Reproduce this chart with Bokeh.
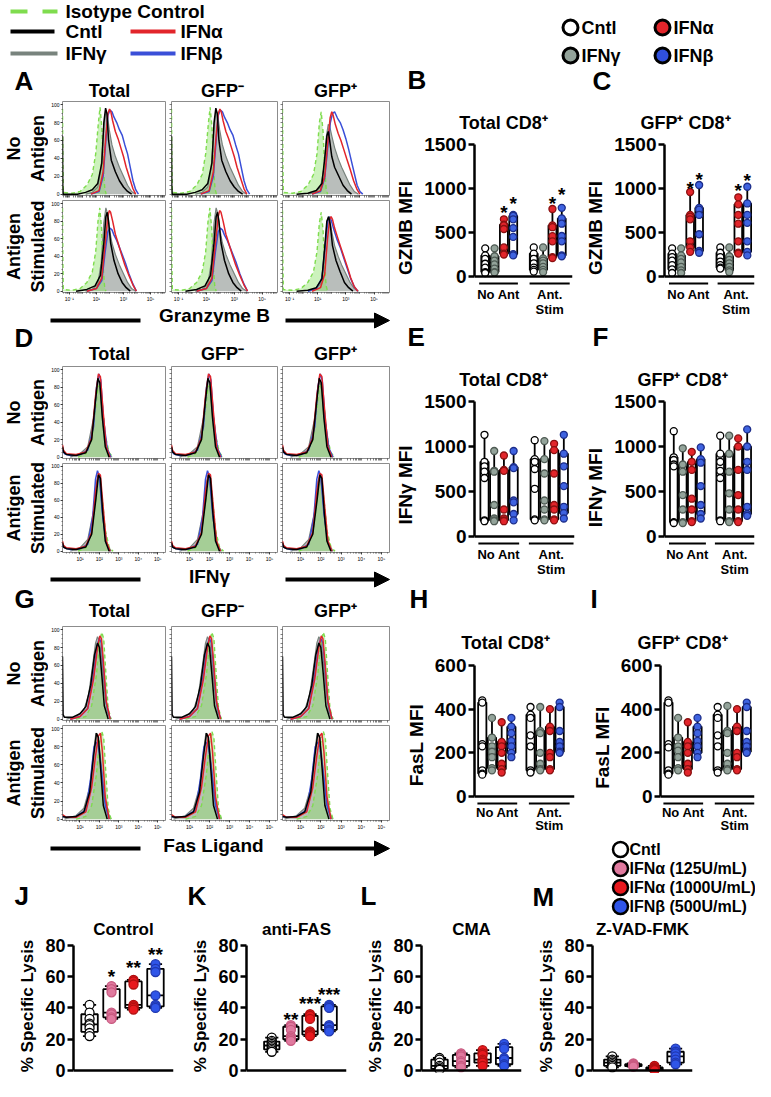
import numpy as np
from bokeh.plotting import figure
from bokeh.layouts import row, column
from bokeh.models import Range1d, FixedTicker, Span, Arrow, NormalHead, LinearAxis
from bokeh.embed import file_html
from bokeh.resources import INLINE
from bokeh.core.properties import value

FONT = "Liberation Sans"

# ---------------- colours ----------------
C_ISO, C_ISO_FILL = "#7fdc4e", "#8fe36a"
C_IFNG, C_IFNG_FILL = "#78837d", "#8a938e"
C_IFNA, C_IFNB, C_PINK = "#e2252b", "#3a4fd8", "#e07a9f"
DOT_GRAY = "#93a39a"

# ---------------- histogram data (x = log10 intensity, y = % of max) ----------------
GZMB_NOAG_TOTAL = {
    "iso": ([-1.5, -1.47, -1.44, -0.8, -0.2, 0.3, 0.7, 0.95, 1.15, 1.27, 1.4, 1.52, 1.62, 1.72],
            [95, 30, 2, 1, 3, 10, 22, 45, 80, 97, 75, 30, 6, 0]),
    "ifng": ([0.2, 0.7, 1.1, 1.35, 1.55, 1.7, 1.8, 1.95, 2.15, 2.4, 2.7, 3.0, 3.3, 3.6, 3.9],
             [0, 2, 8, 30, 75, 93, 90, 72, 55, 42, 30, 20, 10, 3, 0]),
    "cntl": ([-1.5, -1.48, -1.45, -0.4, 0.2, 0.7, 1.1, 1.4, 1.55, 1.68, 1.78, 1.9, 2.1, 2.4, 2.7, 3.0, 3.3, 3.6],
             [65, 8, 0, 0, 2, 5, 12, 35, 80, 96, 90, 60, 38, 25, 15, 8, 3, 0]),
    "ifna": ([0.6, 1.2, 1.5, 1.7, 1.85, 1.97, 2.07, 2.2, 2.4, 2.6, 2.8, 3.0, 3.2, 3.45, 3.7, 3.9],
             [0, 4, 25, 65, 90, 95, 92, 82, 70, 62, 52, 42, 30, 18, 6, 0]),
    "ifnb": ([0.6, 1.2, 1.5, 1.7, 1.85, 2.0, 2.15, 2.3, 2.5, 2.7, 2.9, 3.1, 3.3, 3.5, 3.7, 3.9, 4.1],
             [0, 3, 20, 60, 88, 94, 92, 86, 80, 72, 66, 55, 45, 30, 15, 5, 0]),
}
GZMB_STIM_TOTAL = {
    "iso": ([-1.5, -1.47, -1.44, -0.8, -0.2, 0.3, 0.7, 0.95, 1.12, 1.25, 1.38, 1.5, 1.6, 1.7],
            [95, 30, 2, 1, 3, 10, 22, 45, 80, 95, 72, 28, 6, 0]),
    "ifng": ([0.2, 0.7, 1.1, 1.35, 1.55, 1.7, 1.8, 1.95, 2.15, 2.4, 2.7, 3.0, 3.3, 3.6, 3.9],
             [0, 2, 8, 32, 78, 95, 90, 72, 55, 42, 30, 20, 10, 3, 0]),
    "cntl": ([-0.5, 0.3, 0.9, 1.3, 1.55, 1.7, 1.8, 1.9, 2.05, 2.3, 2.6, 2.9, 3.2, 3.5],
             [0, 2, 6, 18, 55, 85, 90, 80, 55, 35, 20, 10, 4, 0]),
    "ifna": ([0.3, 1.0, 1.4, 1.65, 1.85, 1.95, 2.05, 2.2, 2.4, 2.6, 2.85, 3.1, 3.4, 3.7, 3.95],
             [0, 3, 15, 55, 85, 92, 90, 80, 65, 55, 42, 30, 18, 7, 0]),
    "ifnb": ([0.3, 1.0, 1.4, 1.65, 1.85, 2.0, 2.15, 2.3, 2.5, 2.7, 2.9, 3.15, 3.4, 3.7, 3.95],
             [0, 3, 12, 45, 68, 72, 70, 64, 58, 50, 42, 32, 20, 8, 0]),
}
GZMB_NOAG_GFPP = {
    "iso": ([-1.5, -1.47, -1.44, -0.8, -0.2, 0.3, 0.7, 0.95, 1.12, 1.25, 1.38, 1.5, 1.6, 1.7],
            [95, 30, 2, 1, 3, 10, 22, 45, 80, 92, 70, 28, 6, 0]),
    "ifng": ([0.3, 0.8, 1.2, 1.45, 1.62, 1.75, 1.85, 2.0, 2.2, 2.45, 2.7, 3.0, 3.3, 3.6, 3.9],
             [0, 2, 8, 30, 65, 78, 76, 65, 52, 40, 30, 20, 10, 3, 0]),
    "cntl": ([-0.5, 0.3, 0.9, 1.3, 1.5, 1.65, 1.75, 1.85, 2.0, 2.2, 2.5, 2.8, 3.1, 3.4],
             [0, 1, 4, 12, 40, 65, 70, 60, 42, 30, 20, 10, 4, 0]),
    "ifna": ([0.6, 1.2, 1.5, 1.7, 1.88, 2.0, 2.1, 2.25, 2.45, 2.65, 2.85, 3.05, 3.3, 3.55, 3.8, 4.0],
             [0, 4, 20, 55, 85, 92, 88, 78, 68, 60, 50, 40, 28, 15, 5, 0]),
    "ifnb": ([0.6, 1.2, 1.5, 1.7, 1.9, 2.05, 2.2, 2.4, 2.6, 2.8, 3.0, 3.2, 3.5, 3.8, 4.0, 4.2],
             [0, 3, 18, 50, 80, 90, 92, 85, 80, 72, 62, 50, 30, 10, 3, 0]),
}
GZMB_STIM_GFPP = {
    "iso": ([-1.5, -1.47, -1.44, -0.8, -0.2, 0.3, 0.7, 0.95, 1.12, 1.25, 1.38, 1.5, 1.6, 1.7],
            [92, 30, 2, 1, 3, 10, 22, 45, 78, 90, 70, 28, 6, 0]),
    "ifng": ([0.3, 0.8, 1.2, 1.45, 1.62, 1.75, 1.85, 2.0, 2.2, 2.45, 2.7, 3.0, 3.3, 3.6, 3.9],
             [0, 2, 8, 32, 72, 85, 82, 68, 52, 40, 30, 20, 10, 3, 0]),
    "cntl": ([-0.5, 0.3, 0.9, 1.3, 1.5, 1.65, 1.78, 1.9, 2.05, 2.3, 2.6, 2.9, 3.2, 3.5],
             [0, 1, 4, 14, 50, 80, 85, 75, 52, 35, 22, 10, 4, 0]),
    "ifna": ([0.6, 1.2, 1.5, 1.7, 1.85, 1.95, 2.05, 2.2, 2.4, 2.6, 2.85, 3.1, 3.35, 3.6, 3.85],
             [0, 4, 20, 60, 82, 85, 82, 72, 62, 52, 40, 28, 15, 5, 0]),
    "ifnb": ([0.3, 0.9, 1.3, 1.55, 1.72, 1.85, 1.98, 2.15, 2.35, 2.6, 2.85, 3.1, 3.35, 3.6, 3.85],
             [0, 3, 15, 55, 80, 85, 80, 70, 60, 50, 38, 26, 14, 5, 0]),
}
IFNG_NOAG = {
    "iso": ([0.9, 1.3, 1.6, 1.8, 1.92, 2.02, 2.15, 2.3, 2.5, 2.7],
            [0, 4, 20, 55, 80, 82, 60, 25, 5, 0]),
    "ifng": ([0.5, 1.0, 1.4, 1.7, 1.85, 1.95, 2.05, 2.2, 2.4, 2.6],
             [0, 4, 12, 45, 80, 88, 75, 35, 8, 0]),
    "cntl": ([0.1, 0.15, 0.3, 0.8, 1.3, 1.6, 1.8, 1.92, 2.02, 2.15, 2.3, 2.5],
             [12, 6, 3, 2, 5, 20, 65, 90, 85, 45, 12, 0]),
    "ifna": ([0.1, 0.15, 0.3, 0.8, 1.3, 1.6, 1.8, 1.95, 2.05, 2.2, 2.35, 2.55],
             [14, 8, 4, 3, 6, 22, 70, 95, 92, 50, 12, 0]),
    "ifnb": ([0.1, 0.2, 0.5, 1.0, 1.4, 1.7, 1.85, 1.97, 2.07, 2.2, 2.4, 2.6],
             [8, 4, 2, 3, 8, 35, 80, 95, 88, 45, 10, 0]),
}
IFNG_STIM = {
    "iso": ([0.9, 1.3, 1.6, 1.8, 1.92, 2.02, 2.15, 2.3, 2.5, 2.7],
            [0, 4, 22, 58, 85, 86, 62, 25, 5, 0]),
    "ifng": ([0.5, 1.0, 1.4, 1.7, 1.85, 1.95, 2.05, 2.2, 2.4, 2.6],
             [0, 4, 14, 48, 82, 90, 75, 35, 8, 0]),
    "cntl": ([0.1, 0.15, 0.3, 0.8, 1.3, 1.6, 1.82, 1.95, 2.05, 2.17, 2.3, 2.5],
             [10, 5, 3, 2, 5, 20, 62, 90, 86, 45, 12, 0]),
    "ifna": ([0.1, 0.15, 0.3, 0.8, 1.3, 1.6, 1.8, 1.95, 2.05, 2.2, 2.35, 2.55],
             [12, 7, 4, 3, 6, 22, 70, 92, 90, 50, 12, 0]),
    "ifnb": ([0.1, 0.2, 0.5, 1.0, 1.4, 1.65, 1.8, 1.9, 2.0, 2.15, 2.35, 2.55],
             [8, 4, 2, 3, 8, 40, 85, 95, 88, 45, 10, 0]),
}
FASL_NOAG = {
    "iso": ([0.8, 1.3, 1.6, 1.85, 2.0, 2.12, 2.22, 2.32, 2.45, 2.6],
            [0, 3, 15, 50, 85, 97, 90, 55, 12, 0]),
    "ifng": ([0.3, 0.8, 1.2, 1.45, 1.65, 1.8, 1.9, 2.0, 2.1, 2.25, 2.4, 2.6],
             [0, 3, 10, 28, 60, 85, 92, 88, 70, 35, 8, 0]),
    "cntl": ([0.1, 0.13, 0.2, 0.6, 1.0, 1.3, 1.55, 1.75, 1.9, 2.0, 2.12, 2.25, 2.45],
             [70, 5, 2, 2, 6, 14, 38, 72, 85, 80, 50, 15, 0]),
    "ifna": ([0.5, 1.0, 1.4, 1.7, 1.9, 2.02, 2.1, 2.2, 2.35, 2.55],
             [0, 3, 12, 45, 80, 93, 90, 65, 20, 0]),
    "ifnb": ([0.5, 1.0, 1.4, 1.7, 1.88, 2.0, 2.1, 2.2, 2.35, 2.55],
             [0, 3, 12, 50, 82, 90, 85, 60, 18, 0]),
}
FASL_STIM = {
    "iso": ([0.8, 1.3, 1.6, 1.85, 2.0, 2.12, 2.22, 2.32, 2.45, 2.6],
            [0, 3, 15, 50, 85, 97, 90, 55, 12, 0]),
    "ifng": ([0.2, 0.8, 1.2, 1.5, 1.7, 1.82, 1.92, 2.05, 2.2, 2.4, 2.6],
             [0, 4, 12, 35, 75, 95, 92, 70, 35, 8, 0]),
    "cntl": ([0.1, 0.3, 0.8, 1.2, 1.5, 1.7, 1.85, 1.95, 2.05, 2.2, 2.4],
             [3, 2, 3, 8, 30, 70, 95, 90, 60, 15, 0]),
    "ifna": ([0.1, 0.3, 0.8, 1.3, 1.6, 1.8, 1.95, 2.05, 2.15, 2.3, 2.5],
             [5, 2, 2, 8, 35, 70, 92, 95, 75, 25, 0]),
    "ifnb": ([0.1, 0.3, 0.8, 1.3, 1.55, 1.72, 1.85, 1.95, 2.1, 2.3, 2.5],
             [3, 2, 3, 10, 45, 80, 85, 80, 55, 15, 0]),
}

GZMB_RANGE = (-1.5, 6.1)
GZMB_TICKS = [-1, 1, 3, 5]
GZMB_TICK_LABELS = ["10⁻¹", "10¹", "10³", "10⁵"]
LOG_RANGE = (0.1, 5.4)
LOG_TICKS = [1, 2, 3, 4, 5]
LOG_TICK_LABELS = ["10¹", "10²", "10³", "10⁴", "10⁵"]
PCT_TICKS = [0, 20, 40, 60, 80, 100]

# ---------------- MFI box-plot data: [group][treatment] ; treatments Cntl, IFNγ, IFNα, IFNβ ----------------
GZMB_TOTAL = [
    [[320, 240, 200, 145, 100, 50, 40], [320, 230, 180, 137, 90, 50, 45],
     [650, 590, 580, 540, 330, 260, 250], [700, 690, 650, 550, 450, 255, 240]],
    [[330, 260, 200, 150, 100, 75, 56], [330, 205, 180, 150, 110, 75, 50],
     [767, 580, 560, 458, 400, 220, 210], [780, 660, 600, 460, 400, 240, 230]],
]
GZMB_GFPP = [
    [[320, 260, 220, 180, 130, 80, 40], [320, 240, 200, 160, 110, 70, 40],
     [960, 700, 680, 650, 400, 330, 280], [1040, 780, 760, 700, 480, 290, 270]],
    [[330, 270, 220, 170, 130, 100, 90], [330, 230, 190, 150, 110, 70, 50],
     [900, 820, 700, 600, 400, 270, 260], [1020, 830, 700, 610, 400, 280, 240]],
]
IFNG_TOTAL = [
    [[1130, 830, 780, 720, 650, 180, 170], [950, 730, 720, 350, 200, 180, 170],
     [900, 740, 730, 300, 200, 180, 170], [950, 770, 760, 400, 380, 250, 180]],
    [[1070, 860, 830, 750, 530, 190, 180], [1060, 860, 700, 400, 300, 190, 180],
     [1030, 960, 700, 350, 300, 190, 180], [1130, 920, 780, 560, 330, 260, 200]],
]
IFNG_GFPP = [
    [[1170, 880, 850, 800, 780, 160, 150], [980, 800, 720, 460, 300, 160, 150],
     [940, 830, 740, 420, 300, 170, 160], [990, 860, 820, 560, 350, 250, 200]],
    [[1120, 920, 830, 730, 650, 180, 170], [1120, 920, 720, 480, 300, 170, 160],
     [1090, 1000, 740, 460, 300, 170, 160], [1190, 1000, 830, 740, 330, 250, 230]],
]
FASL_TOTAL = [
    [[440, 430, 240, 230, 120, 105, 100], [360, 270, 230, 205, 180, 130, 120],
     [340, 250, 230, 200, 150, 125, 110], [360, 320, 290, 255, 230, 200, 180]],
    [[410, 375, 360, 280, 230, 120, 110], [410, 300, 290, 200, 150, 125, 120],
     [400, 320, 300, 200, 180, 125, 120], [430, 410, 300, 250, 230, 205, 200]],
]
FASL_GFPP = [
    [[440, 430, 240, 225, 120, 105, 100], [360, 270, 230, 210, 180, 130, 120],
     [340, 250, 230, 200, 150, 125, 110], [360, 320, 290, 255, 230, 200, 180]],
    [[410, 375, 360, 280, 230, 120, 110], [415, 300, 290, 200, 150, 125, 120],
     [400, 320, 300, 200, 180, 125, 120], [430, 410, 300, 250, 230, 205, 200]],
]
GROUP_LABELS = ["No Ant", "Ant.", "Stim"]

# ---------------- % specific lysis: treatments Cntl, IFNα125, IFNα1000, IFNβ500 ----------------
LYSIS_CONTROL = [[42, 37, 33, 30, 29, 27, 24, 22], [54, 52, 50, 37, 36, 34, 33],
                 [58, 57, 55, 42, 41, 40, 39], [68, 65, 63, 48, 42, 41, 40]]
LYSIS_ANTIFAS = [[21, 19, 18, 17, 16, 15, 14, 13, 12], [29, 28, 26, 22, 21, 20, 19],
                 [36, 35, 33, 25, 24, 23, 22], [42, 41, 40, 29, 28, 26, 25]]
LYSIS_CMA = [[8, 7, 5, 3, 2, 1, 0.5], [11, 10, 9, 6, 5, 3, 2],
             [13, 11, 10, 7, 6, 5, 3], [17, 15, 14, 8, 7, 4, 3]]
LYSIS_ZVAD = [[9, 7, 6, 5, 4, 3, 2], [4.5, 4, 3.8, 3.5, 3, 2.8, 2.5],
              [3, 2, 1.5, 1, 0.5, 0.3, 0.2], [14, 12, 11, 9, 7, 5, 4]]
STARS_CONTROL = [(0, 1, 64, "*"), (0, 2, 70, "**"), (0, 3, 78, "**")]
STARS_ANTIFAS = [(0, 1, 36.6, "**"), (0, 2, 47, "***"), (0, 3, 52.7, "***")]
STARS_GZMB_TOTAL = [(0, 2, 794, "*"), (0, 3, 897, "*"), (1, 2, 897, "*"), (1, 3, 1004, "*")]
STARS_GZMB_GFPP = [(0, 2, 1063, "*"), (0, 3, 1175, "*"), (1, 2, 1045, "*"), (1, 3, 1157, "*")]

MFI_STYLES = [("white", "black"), (DOT_GRAY, "#4e5a53"), (C_IFNA, "#8a1010"), ("#3f63e0", "#1c2d8a")]
LYSIS_STYLES = [("white", "black"), (C_PINK, "#c85a80"), ("#e8191e", "#b01010"), ("#2f55e8", "#2038b0")]


# ---------------- helpers ----------------
def canvas(x0, y0, w, h):
    # page-pixel canvas; y is stored negated so that the range is not inverted
    p = figure(width=w, height=h, x_range=Range1d(x0, x0 + w), y_range=Range1d(-(y0 + h), -y0),
               x_axis_type=None, y_axis_type=None, output_backend="svg",
               toolbar_location=None, tools="", min_border=0)
    p.outline_line_color = None
    return p


def T(p, x, y, s, size=19, align="left", style="bold", baseline="middle", color="black"):
    p.text(x=[x], y=[-y], text=[s], text_font=value(FONT), text_font_style=style,
           text_font_size=f"{size}px", text_align=align, text_baseline=baseline, text_color=color)


def L(p, xs, ys, color="black", width=4, dash="solid"):
    p.line(xs, [-v for v in ys], line_color=color, line_width=width, line_dash=dash)


def DOT(p, x, y, fill, lw=3, size=15):
    p.scatter(x=[x], y=[-y], size=size, fill_color=fill, line_color="black", line_width=lw)


def log_minors(lo, hi):
    out = []
    for n in range(-3, 7):
        for k in range(1, 10):
            v = n + np.log10(k)
            if lo <= v <= hi:
                out.append(float(v))
    return out


def hist_axis(ax, majors, minors, labels, show):
    ax.axis_line_color = None
    ax.major_tick_in = 0
    ax.minor_tick_in = 0
    ax.major_tick_line_width = 0.7
    ax.minor_tick_line_width = 0.5
    if show:
        ax.ticker = FixedTicker(ticks=majors, minor_ticks=minors)
        if labels is not None:
            ax.major_label_overrides = {m: l for m, l in zip(majors, labels)}
        ax.major_tick_out = 2
        ax.minor_tick_out = 1
        ax.major_label_standoff = 1
        ax.major_label_text_font = FONT
        ax.major_label_text_font_size = "5px"
        ax.major_label_text_color = "black"
    else:
        # tick marks only, drawn as minor ticks so that no label is emitted
        ax.ticker = FixedTicker(ticks=[], minor_ticks=sorted(set(list(majors) + list(minors))))
        ax.major_tick_out = 0
        ax.minor_tick_out = 2
        ax.major_label_standoff = 0


def hist(curves, xr, majors, labels, w, bl, br, h, bb, show_x, show_y):
    p = figure(width=w, height=h, x_range=Range1d(*xr), y_range=Range1d(-1.5, 103.5),
               output_backend="svg", toolbar_location=None, tools="",
               min_border_left=bl, min_border_right=br, min_border_top=0, min_border_bottom=bb)
    p.grid.visible = False
    p.outline_line_color = "#8c8c8c"
    p.outline_line_width = 1
    hist_axis(p.xaxis[0], majors, log_minors(*xr), labels, show_x)
    hist_axis(p.yaxis[0], PCT_TICKS, list(range(0, 101, 5)), None, show_y)
    ix, iy = curves["iso"]
    gx, gy = curves["ifng"]
    p.varea(x=gx, y1=0, y2=gy, fill_color=C_IFNG_FILL, fill_alpha=0.6)
    p.varea(x=ix, y1=0, y2=iy, fill_color=C_ISO_FILL, fill_alpha=0.45)
    p.line(gx, gy, line_color=C_IFNG, line_width=1.2)
    p.line(ix, iy, line_color=C_ISO, line_width=1.4, line_dash="4 3")
    for key, col in (("ifnb", C_IFNB), ("ifna", C_IFNA), ("cntl", "black")):
        cx, cy = curves[key]
        p.line(cx, cy, line_color=col, line_width=1.5)
    return p


def label_axis(ax, text):
    ax.ticker = FixedTicker(ticks=[])
    ax.axis_line_color = None
    ax.major_tick_out = 0
    ax.major_tick_in = 0
    ax.minor_tick_out = 0
    ax.minor_tick_in = 0
    ax.major_label_standoff = 0
    ax.axis_label = text
    ax.axis_label_text_font = FONT
    ax.axis_label_text_font_style = "bold"
    ax.axis_label_text_font_size = "18px"
    ax.axis_label_text_color = "black"
    ax.axis_label_standoff = 1


def row_label(h, bb, outer, inner):
    # two rotated row titles drawn as axis labels of an otherwise empty panel
    p = figure(width=48, height=h, x_range=Range1d(0, 1), y_range=Range1d(0, 1), x_axis_type=None,
               output_backend="svg", toolbar_location=None, tools="",
               min_border_left=44, min_border_right=0, min_border_top=0, min_border_bottom=bb)
    p.grid.visible = False
    p.outline_line_color = None
    label_axis(p.yaxis[0], inner)
    out_ax = LinearAxis()
    label_axis(out_ax, outer)
    p.add_layout(out_ax, "left")
    return p


def hist_row(h, bb, lines, sets, xr, majors, labels, show_x):
    figs = [row_label(h, bb, lines[0], lines[1])]
    dims = [(118, 12, 1), (112, 5, 1), (114, 4, 3)]
    for k, (w, bl, br) in enumerate(dims):
        figs.append(hist(sets[k], xr, majors, labels, w, bl, br, h, bb, show_x, k == 0))
    return row(*figs)


def stats(v):
    v = np.asarray(v, float)
    q1, med, q3 = np.percentile(v, [25, 50, 75], method="weibull")
    return v.min(), q1, med, q3, v.max()


def style_yaxis(ax, ticks, tick_size, lab_size, label):
    ax.ticker = FixedTicker(ticks=ticks)
    ax.bounds = (0, ticks[-1])
    ax.axis_line_width = 2.5
    ax.axis_line_color = "black"
    ax.major_tick_line_width = 2.5
    ax.major_tick_line_color = "black"
    ax.major_tick_out = 6
    ax.major_tick_in = 0
    ax.minor_tick_line_color = None
    ax.major_label_text_font = FONT
    ax.major_label_text_font_style = "bold"
    ax.major_label_text_font_size = tick_size
    ax.major_label_text_color = "black"
    ax.major_label_standoff = 2
    ax.axis_label = label
    ax.axis_label_text_font = FONT
    ax.axis_label_text_font_style = "bold"
    ax.axis_label_text_font_size = lab_size
    ax.axis_label_text_color = "black"
    ax.axis_label_standoff = 5


def box_panel(w, h, bl, br, bt, bb, xr, yr, yticks, ylabel, groups, offsets, spacing, styles,
              bw, cap, pt, tick_size, lab_size, stars=(), glines=None, title=None):
    p = figure(width=w, height=h, x_range=Range1d(*xr), y_range=Range1d(*yr), x_axis_type=None,
               output_backend="svg", toolbar_location=None, tools="",
               min_border_left=bl, min_border_right=br, min_border_top=bt, min_border_bottom=bb)
    p.grid.visible = False
    p.outline_line_color = None
    if title:
        p.title.text = title
        p.title.align = "center"
        p.title.text_font = FONT
        p.title.text_font_style = "bold"
        p.title.text_font_size = "17px"
        p.title.text_color = "black"
        p.title.standoff = 1
    style_yaxis(p.yaxis[0], yticks, tick_size, lab_size, ylabel)
    p.add_layout(Span(location=0, dimension="width", line_color="black", line_width=2.5))
    wx0, wy0, wx1, wy1 = [], [], [], []
    mx0, mx1, my = [], [], []
    ql, qr, qb, qt = [], [], [], []
    for gi, grp in enumerate(groups):
        for ti, pts in enumerate(grp):
            x = offsets[gi] + ti * spacing
            lo, q1, med, q3, hi = stats(pts)
            wx0 += [x, x, x - cap, x - cap]
            wx1 += [x, x, x + cap, x + cap]
            wy0 += [lo, q3, lo, hi]
            wy1 += [q1, hi, lo, hi]
            mx0.append(x - bw / 2); mx1.append(x + bw / 2); my.append(med)
            ql.append(x - bw / 2); qr.append(x + bw / 2); qb.append(q1); qt.append(q3)
    p.segment(x0=wx0, y0=wy0, x1=wx1, y1=wy1, line_color="black", line_width=1.8)
    p.quad(left=ql, right=qr, bottom=qb, top=qt, fill_color="white", line_color="black", line_width=1.8)
    p.segment(x0=mx0, y0=my, x1=mx1, y1=my, line_color="black", line_width=1.8)
    for gi, grp in enumerate(groups):
        for ti, pts in enumerate(grp):
            x = offsets[gi] + ti * spacing
            fill, edge = styles[ti]
            p.scatter(x=[x] * len(pts), y=pts, size=pt, fill_color=fill, line_color=edge, line_width=1.3)
    if stars:
        sx = [offsets[gi] + ti * spacing for gi, ti, _, _ in stars]
        sy = [s[2] for s in stars]
        st = [s[3] for s in stars]
        p.text(x=sx, y=sy, text=st, text_font=value(FONT), text_font_style="bold",
               text_font_size="19px", text_align="center", text_baseline="middle", y_offset=6)
    if glines:
        ly, t1, t2, spans = glines
        p.segment(x0=[spans[0][0], spans[1][0]], y0=[ly, ly], x1=[spans[0][1], spans[1][1]], y1=[ly, ly],
                  line_color="black", line_width=2)
        c0 = (spans[0][0] + spans[0][1]) / 2
        c1 = (spans[1][0] + spans[1][1]) / 2
        p.text(x=[c0, c1, c1], y=[t1, t1, t2], text=GROUP_LABELS, text_font=value(FONT),
               text_font_style="bold", text_font_size="13px", text_align="center", text_baseline="middle")
    return p


def arrow_label(p, y_text, y_bar, label, cx):
    T(p, cx, y_text, label, 19, "center")
    L(p, [58, 148], [y_bar, y_bar])
    p.add_layout(Arrow(end=NormalHead(size=15, fill_color="black", line_color="black"),
                       x_start=293, y_start=-y_bar, x_end=397, y_end=-y_bar,
                       line_color="black", line_width=4))


def col_titles(p, ty):
    T(p, 117, ty, "Total", 18, "center")
    T(p, 230, ty, "GFP⁻", 18, "center")
    T(p, 343, ty, "GFP⁺", 18, "center")


# ================= LEFT COLUMN (histograms) =================
topL = canvas(8, 8, 392, 101)
L(topL, [18, 65], [19, 19], C_ISO, 4, "17 15")
T(topL, 73, 19, "Isotype Control")
L(topL, [18, 62], [39, 39], "black")
T(topL, 73, 39, "Cntl")
L(topL, [138, 183], [39, 39], C_IFNA)
T(topL, 188, 39, "IFNα")
L(topL, [18, 65], [61, 61], C_IFNG)
T(topL, 73, 61, "IFNγ")
L(topL, [138, 183], [61, 61], C_IFNB)
T(topL, 188, 61, "IFNβ")
T(topL, 22, 88, "A", 26)
col_titles(topL, 98)

rA1 = hist_row(99, 5, ("No", "Antigen"), [GZMB_NOAG_TOTAL, GZMB_NOAG_TOTAL, GZMB_NOAG_GFPP],
               GZMB_RANGE, GZMB_TICKS, GZMB_TICK_LABELS, False)
rA2 = hist_row(104, 9, ("Antigen", "Stimulated"), [GZMB_STIM_TOTAL, GZMB_STIM_TOTAL, GZMB_STIM_GFPP],
               GZMB_RANGE, GZMB_TICKS, GZMB_TICK_LABELS, True)

midD = canvas(8, 312, 392, 62)
arrow_label(midD, 323, 328, "Granzyme B", 222)
T(midD, 22, 345, "D", 26)
col_titles(midD, 361)

rD1 = hist_row(97, 5, ("No", "Antigen"), [IFNG_NOAG] * 3, LOG_RANGE, LOG_TICKS, LOG_TICK_LABELS, False)
rD2 = hist_row(101, 9, ("Antigen", "Stimulated"), [IFNG_STIM] * 3, LOG_RANGE, LOG_TICKS, LOG_TICK_LABELS, True)

midG = canvas(8, 572, 392, 62)
arrow_label(midG, 584, 587, "IFNγ", 217)
T(midG, 22, 606, "G", 26)
col_titles(midG, 618)

rG1 = hist_row(99, 5, ("No", "Antigen"), [FASL_NOAG] * 3, LOG_RANGE, LOG_TICKS, LOG_TICK_LABELS, False)
rG2 = hist_row(109, 14, ("Antigen", "Stimulated"), [FASL_STIM] * 3, LOG_RANGE, LOG_TICKS, LOG_TICK_LABELS, True)

left = column(topL, rA1, rA2, midD, rD1, rD2, midG, rG1, rG2)

# ================= RIGHT COLUMN (MFI box plots) =================
topR = canvas(400, 8, 363, 133)
for (cx, cy, fill, lab) in ((578, 35, "white", "Cntl"), (670, 35, C_IFNA, "IFNα"),
                            (578, 63, DOT_GRAY, "IFNγ"), (670, 63, "#3050dd", "IFNβ")):
    DOT(topR, cx, cy, fill)
    T(topR, cx + 11, cy, lab, 18)
T(topR, 415, 87, "B", 26)
T(topR, 600, 88, "C", 26)
T(topR, 511, 130, "Total CD8⁺", 18, "center")
T(topR, 693, 130, "GFP⁺ CD8⁺", 18, "center")

sB = 0.088   # px per unit ; 0 at y=284
GL_B = (-(291 - 284) / sB, -(302 - 284) / sB, -(317 - 284) / sB)
YR_B = (-(326 - 284) / sB, 1500 + 7 / sB)
pB = box_panel(190, 185, 78, 10, 4, 0, (0, 10.5), YR_B, [0, 500, 1000, 1500],
               "GZMB MFI", GZMB_TOTAL, (1.15, 6.35), 1.0, MFI_STYLES, 0.85, 0.25, 7, "19px", "19px",
               STARS_GZMB_TOTAL, GL_B + (((0.5, 4.65), (5.9, 10.2)),))
pC = box_panel(173, 185, 75, 1, 4, 0, (0, 10.0), YR_B, [0, 500, 1000, 1500],
               "GZMB MFI", GZMB_GFPP, (0.85, 6.2), 1.0, MFI_STYLES, 0.85, 0.25, 7, "19px", "19px",
               STARS_GZMB_GFPP, GL_B + (((0.5, 4.85), (5.9, 10.0)),))

hEF = canvas(400, 326, 363, 72)
T(hEF, 415, 344, "E", 26)
T(hEF, 600, 344, "F", 26)
T(hEF, 511, 387, "Total CD8⁺", 18, "center")
T(hEF, 690, 387, "GFP⁺ CD8⁺", 18, "center")

sE = 0.09    # 0 at y=544
GL_E = (-(551 - 544) / sE, -(562 - 544) / sE, -(577 - 544) / sE)
YR_E = (-(583 - 544) / sE, 1500 + 7 / sE)
pE = box_panel(190, 187, 82, 8, 4, 2, (0, 10.3), YR_E, [0, 500, 1000, 1500],
               "IFNγ MFI", IFNG_TOTAL, (1.03, 6.2), 1.0, MFI_STYLES, 0.85, 0.25, 7, "19px", "19px",
               (), GL_E + (((0.4, 4.6), (5.6, 10.2)),))
pF = box_panel(173, 187, 75, 1, 4, 2, (0, 10.0), YR_E, [0, 500, 1000, 1500],
               "IFNγ  MFI", IFNG_GFPP, (1.03, 6.19), 1.0, MFI_STYLES, 0.85, 0.25, 7, "19px", "19px",
               (), GL_E + (((0.5, 4.6), (5.6, 10.0)),))

hHI = canvas(400, 585, 363, 76)
T(hHI, 417, 606, "H", 26)
T(hHI, 598, 606, "I", 26)
T(hHI, 513, 650, "Total CD8⁺", 18, "center")
T(hHI, 690, 650, "GFP⁺ CD8⁺", 18, "center")

sH = 131 / 600   # 0 at y=804
GL_H = (-(811 - 804) / sH, -(820 - 804) / sH, -(833 - 804) / sH)
YR_H = (-(840 - 804) / sH, 600 + 8 / sH)
pH = box_panel(190, 181, 82, 8, 4, 2, (0, 10.3), YR_H, [0, 200, 400, 600],
               "FasL MFI", FASL_TOTAL, (0.8, 5.77), 1.0, MFI_STYLES, 0.85, 0.25, 7, "19px", "19px",
               (), GL_H + (((0.3, 4.4), (5.6, 9.8)),))
pI = box_panel(173, 181, 78, 1, 4, 2, (0, 9.7), YR_H, [0, 200, 400, 600],
               "FasL  MFI", FASL_GFPP, (0.82, 5.9), 1.0, MFI_STYLES, 0.85, 0.25, 7, "19px", "19px",
               (), GL_H + (((0.3, 4.4), (5.6, 9.7)),))

right = column(topR, row(pB, pC), hEF, row(pE, pF), hHI, row(pH, pI))

# ================= BOTTOM (specific lysis) =================
bot = canvas(8, 842, 755, 83)
arrow_label(bot, 853, 856, "Fas Ligand", 221)
for (lx, ly, l) in ((22, 903, "J"), (195, 903, "K"), (368, 903, "L"), (540, 904, "M")):
    T(bot, lx, ly, l, 26)
for (cy, fill, lab) in ((857, "white", "Cntl"), (876, C_PINK, "IFNα (125U/mL)"),
                        (895, "#e8191e", "IFNα (1000U/mL)"), (914, "#2f55e8", "IFNβ (500U/mL)")):
    DOT(bot, 628, cy, fill, lw=2.5)
    T(bot, 637, cy, lab, 16)

# frame 945..1080 ; 0 at 1078 ; 1.5875 px per %
sL = 1.5875
LY = (-(1080 - 1078) / sL, (1078 - 945) / sL)
LT = [0, 20, 40, 60, 80]
pJ = box_panel(182, 164, 73, 9, 20, 9, (0, 4.55), LY, LT, "% Specific Lysis",
               [LYSIS_CONTROL], (0.73,), 1.0, LYSIS_STYLES, 0.75, 0.3, 9, "18px", "17px", STARS_CONTROL,
               title="Control")
pK = box_panel(172, 164, 64, 8, 20, 9, (0, 4.55), LY, LT, "% Specific Lysis",
               [LYSIS_ANTIFAS], (1.15,), 0.87, LYSIS_STYLES, 0.7, 0.3, 9, "18px", "17px", STARS_ANTIFAS,
               title="anti-FAS")
pL = box_panel(173, 164, 67, 6, 20, 9, (0, 4.55), LY, LT, "% Specific Lysis",
               [LYSIS_CMA], (0.82,), 0.98, LYSIS_STYLES, 0.75, 0.3, 9, "18px", "17px", title="CMA")
pM = box_panel(228, 164, 65, 63, 20, 9, (0, 4.55), LY, LT, "% Specific Lysis",
               [LYSIS_ZVAD], (0.9,), 0.96, LYSIS_STYLES, 0.75, 0.3, 9, "18px", "17px", title="Z-VAD-FMK")

root = column(row(left, right), bot, row(pJ, pK, pL, pM))

open("out.html", "w").write(file_html(root, INLINE))
